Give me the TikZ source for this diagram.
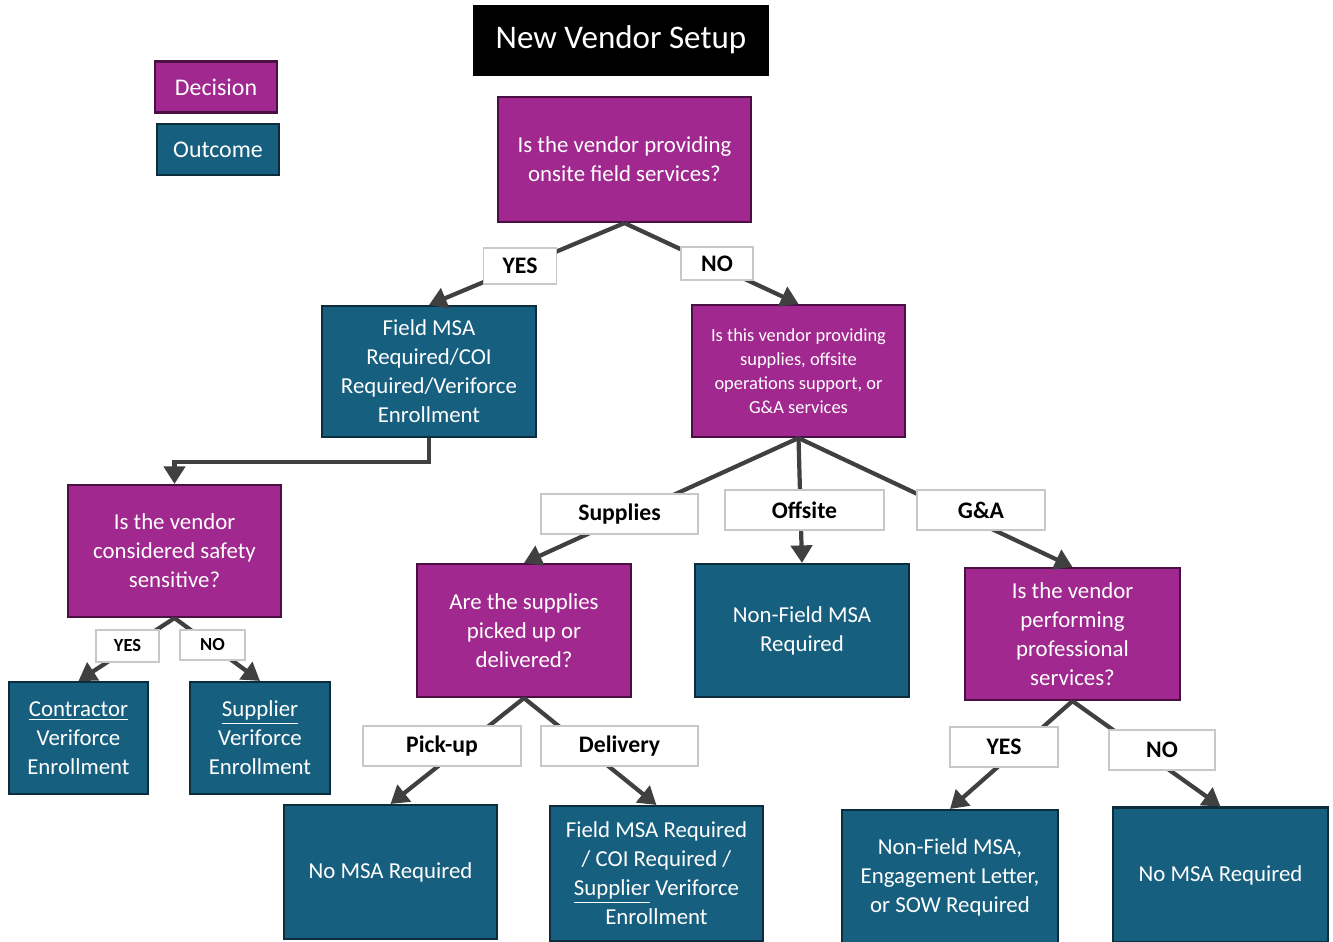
\documentclass[tikz,border=0pt]{standalone}
\usepackage{fontspec}
\setmainfont{Carlito}
\usepackage{xcolor}
\usetikzlibrary{arrows.meta, positioning}

\definecolor{decfill}{HTML}{A0288E}
\definecolor{decedge}{HTML}{4A1044}
\definecolor{outfill}{HTML}{175F7F}
\definecolor{outedge}{HTML}{0D2C3C}
\definecolor{arrowgray}{HTML}{404040}
\definecolor{lbledge}{HTML}{C8C8C8}

\begin{document}
\begin{tikzpicture}[
    x=0.02cm, y=-0.02cm,
    decision/.style={rectangle, draw=decedge, line width=1.2pt, fill=decfill,
                text=white, align=center, inner sep=2pt,
                font=\fontsize{13}{16.5}\selectfont},
    outcome/.style={rectangle, draw=outedge, line width=1.2pt, fill=outfill,
                text=white, align=center, inner sep=2pt,
                font=\fontsize{13}{16.5}\selectfont},
    lbl/.style={rectangle, draw=lbledge, fill=white, line width=0.6pt,
                inner sep=0pt, font=\bfseries\fontsize{13.5}{15}\selectfont},
    smalllbl/.style={lbl, font=\bfseries\fontsize{10.5}{12}\selectfont},
    arrow/.style={draw=arrowgray, line width=2.4pt,
                -{Triangle[length=10pt,width=12pt]}}
]
\useasboundingbox (0,0) rectangle (1333,941);

% title and legend
\node[fill=black, text=white, minimum width=5.92cm, minimum height=1.42cm,
      font=\fontsize{18.8}{22}\selectfont] (title) at (621,40) {New Vendor Setup};
\node[decision, minimum width=2.44cm, minimum height=1.02cm,
      font=\fontsize{13.6}{16}\selectfont] (legdec) at (216,87) {Decision};
\node[outcome, minimum width=2.44cm, minimum height=1.02cm,
      font=\fontsize{13.6}{16}\selectfont] (legout) at (218,149.5) {Outcome};

% decisions
\node[decision, minimum width=5.06cm, minimum height=2.5cm] (onsite) at (624.5,159.5)
    {Is the vendor providing\\onsite field services?};
\node[decision, minimum width=4.26cm, minimum height=2.64cm,
      font=\fontsize{10.5}{13.6}\selectfont] (offsiteq) at (798.5,371)
    {Is this vendor providing\\supplies, offsite\\operations support, or\\G\&A services};
\node[decision, minimum width=4.26cm, minimum height=2.64cm] (safety) at (174.5,551)
    {Is the vendor\\considered safety\\sensitive?};
\node[decision, minimum width=4.28cm, minimum height=2.66cm] (pickdel) at (524,630.5)
    {Are the supplies\\picked up or\\delivered?};
\node[decision, minimum width=4.3cm, minimum height=2.64cm] (prof) at (1072.5,634)
    {Is the vendor\\performing\\professional\\services?};

% outcomes
\node[outcome, minimum width=4.28cm, minimum height=2.62cm] (fieldmsa) at (429,371.5)
    {Field MSA\\Required/COI\\Required/Veriforce\\Enrollment};
\node[outcome, minimum width=2.78cm, minimum height=2.24cm] (contractor) at (78.5,738)
    {\underline{Contractor}\\Veriforce\\Enrollment};
\node[outcome, minimum width=2.8cm, minimum height=2.24cm] (supplier) at (260,738)
    {\underline{Supplier}\\Veriforce\\Enrollment};
\node[outcome, minimum width=4.28cm, minimum height=2.66cm] (nonfield) at (802,630.5)
    {Non-Field MSA\\Required};
\node[outcome, minimum width=4.26cm, minimum height=2.68cm] (nomsaA) at (390.5,872)
    {No MSA Required};
\node[outcome, minimum width=4.26cm, minimum height=2.7cm] (delivmsa) at (656.5,873.5)
    {Field MSA Required\\/ COI Required /\\\underline{Supplier} Veriforce\\Enrollment};
\node[outcome, minimum width=4.32cm, minimum height=2.68cm] (engage) at (950,877)
    {Non-Field MSA,\\Engagement Letter,\\or SOW Required};
\node[outcome, minimum width=4.3cm, minimum height=2.7cm] (nomsaB) at (1220.5,875)
    {No MSA Required};

% connectors
\draw[arrow] (onsite.south) -- (fieldmsa.north);
\draw[arrow] (onsite.south) -- (offsiteq.north);
\draw[arrow] (fieldmsa.south) -- ++(0,24) -| (safety.north);
\draw[arrow] (safety.south) -- (contractor.north);
\draw[arrow] (safety.south) -- (supplier.north);
\draw[arrow] (offsiteq.south) -- (pickdel.north);
\draw[arrow] (offsiteq.south) -- (nonfield.north);
\draw[arrow] (offsiteq.south) -- (prof.north);
\draw[arrow] (pickdel.south) -- (nomsaA.north);
\draw[arrow] (pickdel.south) -- (delivmsa.north);
\draw[arrow] (prof.south) -- (engage.north);
\draw[arrow] (prof.south) -- (nomsaB.north);

% branch labels
\node[lbl, minimum width=1.46cm, minimum height=0.72cm] (yesA) at (520,266) {YES};
\node[lbl, minimum width=1.44cm, minimum height=0.66cm] (noA) at (717,263.5) {NO};
\node[smalllbl, minimum width=1.26cm, minimum height=0.64cm] (yesB) at (127.5,646) {YES};
\node[smalllbl, minimum width=1.3cm, minimum height=0.6cm] (noB) at (212.5,645) {NO};
\node[lbl, minimum width=3.14cm, minimum height=0.8cm] (supplies) at (619.5,514) {Supplies};
\node[lbl, minimum width=3.18cm, minimum height=0.8cm] (offsite) at (804.5,510) {Offsite};
\node[lbl, minimum width=2.56cm, minimum height=0.8cm] (ga) at (981,510) {G\&A};
\node[lbl, minimum width=3.16cm, minimum height=0.8cm] (pickup) at (442,746) {Pick-up};
\node[lbl, minimum width=3.14cm, minimum height=0.8cm] (delivery) at (619.5,746) {Delivery};
\node[lbl, minimum width=2.16cm, minimum height=0.8cm] (yesC) at (1004,747) {YES};
\node[lbl, minimum width=2.12cm, minimum height=0.8cm] (noC) at (1162,750) {NO};

\end{tikzpicture}
\end{document}
